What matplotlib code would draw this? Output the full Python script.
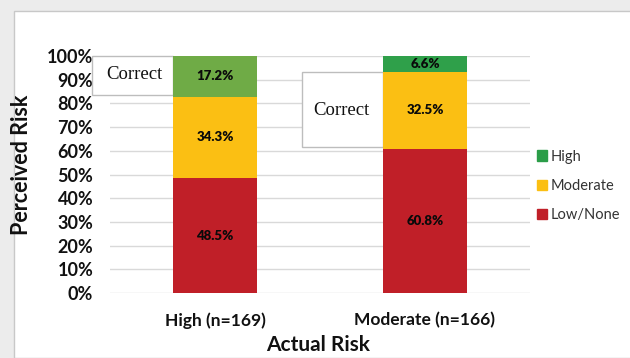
import matplotlib.pyplot as plt
from matplotlib.patches import Rectangle, Patch

groups = ["High (n=169)", "Moderate (n=166)"]
low_none = [48.5, 60.8]
moderate = [34.3, 32.5]
high = [17.2, 6.6]

red = "#c01f28"
yellow = "#fbbf13"
green_legend = "#2b9d48"
high_colors = ["#6fab46", "#2fa04a"]

fig = plt.figure(figsize=(6.3, 3.58), dpi=100, facecolor="#ececec")

# white chart area with a thin grey frame
fig.patches.append(Rectangle((14 / 630, 0), 1, (358 - 11) / 358, transform=fig.transFigure,
                             facecolor="white", edgecolor="#c8c8c8", linewidth=1, zorder=-1))

ax = fig.add_axes([110 / 630, (358 - 293) / 358, 420 / 630, 237 / 358])
ax.set_facecolor("none")
ax.set_zorder(1)

x = range(len(groups))
w = 0.4
ax.bar(x, low_none, w, color=red, zorder=3)
ax.bar(x, moderate, w, bottom=low_none, color=yellow, zorder=3)
tops = [a + b for a, b in zip(low_none, moderate)]
ax.bar(x, high, w, bottom=tops, color=high_colors, zorder=3)

for i in x:
    for val, base in ((low_none[i], 0), (moderate[i], low_none[i]), (high[i], tops[i])):
        ax.text(i, base + val / 2, f"{val}%", ha="center", va="center",
                fontsize=9.5, fontweight="heavy", family="Lato", color="#0a0a0a", zorder=4)

ax.set_xlim(-0.5, 1.5)
ax.set_ylim(0, 100)
ax.set_yticks(range(0, 101, 10))
ax.set_yticklabels([f"{v}%" for v in range(0, 101, 10)])
ax.set_xticks(list(x))
ax.set_xticklabels(groups)
ax.tick_params(length=0, labelsize=12.5, colors="#111111")
ax.tick_params(axis="y", labelsize=13, pad=12)
ax.tick_params(axis="x", pad=14)
for lab in ax.get_xticklabels() + ax.get_yticklabels():
    lab.set_fontweight("bold")
    lab.set_family("Lato")
ax.grid(axis="y", color="#d9d9d9", linewidth=1, zorder=0)
for s in ax.spines.values():
    s.set_visible(False)

# "Correct" callout boxes beside the correctly perceived segments
boxes = [(-0.586, 83.5, 0.386, 16.5), (0.414, 61.6, 0.386, 31.6)]
for bx, by, bw, bh in boxes:
    ax.add_patch(Rectangle((bx, by), bw, bh, facecolor="white", edgecolor="#bdbdbd",
                           linewidth=1, zorder=2, clip_on=False))
for tx, ty in ((-0.52, 92.0), (0.47, 77.0)):
    ax.text(tx, ty, "Correct", ha="left", va="center", fontsize=13.5,
            family="Liberation Serif", color="#111111", zorder=4)

fig.text(22 / 630, 1 - 165 / 358, "Perceived Risk", rotation=90, ha="center", va="center",
         fontsize=15.5, fontweight="bold", family="Lato", color="#111111")
fig.text(318 / 630, 1 - 345 / 358, "Actual Risk", ha="center", va="center",
         fontsize=15, fontweight="bold", family="Lato", color="#111111")

handles = [Patch(color=green_legend, label="High"),
           Patch(color=yellow, label="Moderate"),
           Patch(color=red, label="Low/None")]
fig.legend(handles=handles, loc="center left", bbox_to_anchor=(524 / 630, 1 - 186 / 358),
           frameon=False, handlelength=0.7, handleheight=0.7,
           handletextpad=0.2, labelspacing=1.05, prop={"family": "Lato", "size": 10.5},
           labelcolor="#333333")

fig.savefig("out.png", dpi=100, facecolor=fig.get_facecolor())
